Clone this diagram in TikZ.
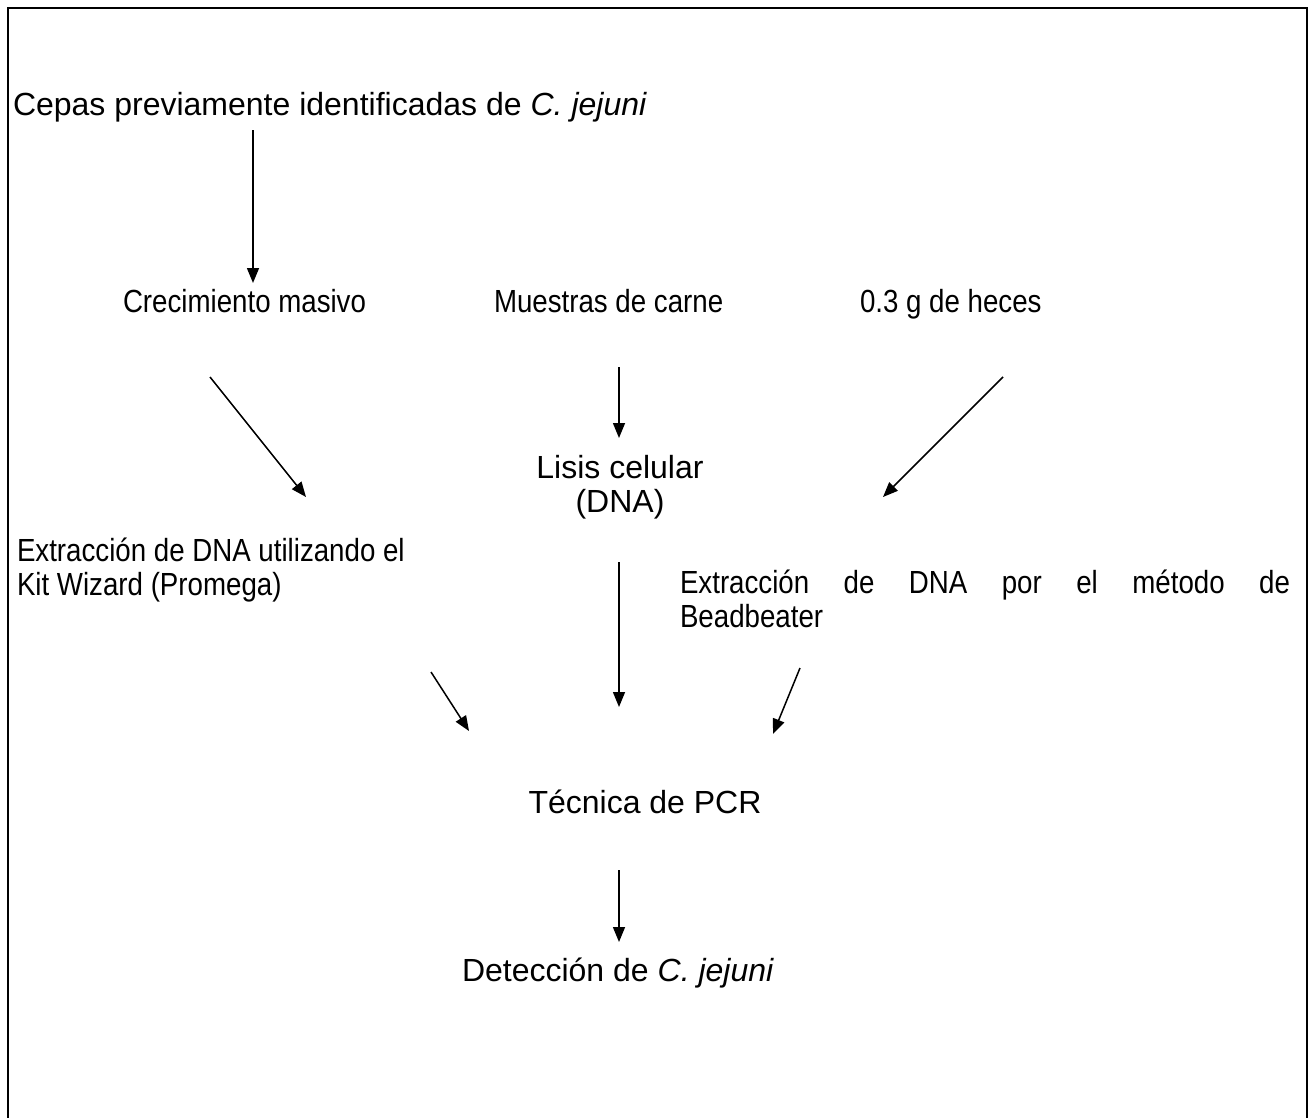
\documentclass[tikz,border=0pt]{standalone}
\usepackage{fontspec}
\setmainfont{Liberation Sans}
\newfontfamily\condfont[FakeStretch=0.865]{Liberation Sans}
\usetikzlibrary{arrows.meta}
\begin{document}
\begin{tikzpicture}[x=1pt,y=-1pt,
  txt/.style={inner sep=0pt,outer sep=0pt,font=\fontsize{32}{34}\selectfont},
  ctxt/.style={inner sep=0pt,outer sep=0pt,font=\fontsize{32}{34}\selectfont\condfont},
  arr/.style={line width=1.5pt,-{Triangle[length=15pt,width=12pt]}}]
\useasboundingbox (0,0) rectangle (1315,1117);
\begin{scope}
\clip (0,0) rectangle (1315,1117);
\draw[line width=2.5pt] (8,8) rectangle (1307,1130);
\end{scope}
\node[txt,anchor=base west] (cepas) at (13,115) {Cepas previamente identificadas de \textit{C. jejuni}};
\node[ctxt,anchor=base west] (crec) at (123,312) {Crecimiento masivo};
\node[ctxt,anchor=base west] (mues) at (494,312) {Muestras de carne};
\node[ctxt,anchor=base west] (hec) at (860,312) {0.3 g de heces};
\node[txt,anchor=base,align=center] (lis) at (620,512) {Lisis celular\\(DNA)};
\node[ctxt,anchor=base west,align=left] (kit) at (17,595) {Extracción de DNA utilizando el\\Kit Wizard (Promega)};
\node[ctxt,anchor=base west,align=left] (bead) at (680,627) {\makebox[610pt][s]{Extracción de DNA por el método de}\\Beadbeater};
\node[txt,anchor=base] (pcr) at (645,813) {Técnica de PCR};
\node[txt,anchor=base] (det) at (618,981) {Detección de \textit{C. jejuni}};
\coordinate (a1s) at (253,130); \coordinate (a1e) at (253,283);
\coordinate (a2s) at (210,377); \coordinate (a2e) at (306,497);
\coordinate (a3s) at (619,367); \coordinate (a3e) at (619,438);
\coordinate (a4s) at (1003,377); \coordinate (a4e) at (883,497);
\coordinate (a5s) at (431,672); \coordinate (a5e) at (469,731);
\coordinate (a6s) at (800,668); \coordinate (a6e) at (773,734);
\coordinate (a7s) at (619,562); \coordinate (a7e) at (619,707);
\coordinate (a8s) at (619,870); \coordinate (a8e) at (619,942);
\draw[arr] (a1s) -- (a1e);
\draw[arr] (a2s) -- (a2e);
\draw[arr] (a3s) -- (a3e);
\draw[arr] (a4s) -- (a4e);
\draw[arr] (a5s) -- (a5e);
\draw[arr] (a6s) -- (a6e);
\draw[arr] (a7s) -- (a7e);
\draw[arr] (a8s) -- (a8e);
\end{tikzpicture}
\end{document}
